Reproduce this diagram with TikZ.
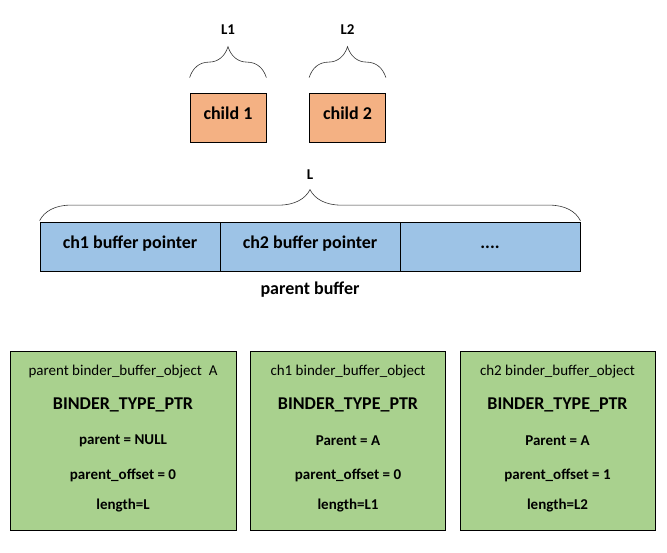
\documentclass[tikz,border=0pt]{standalone}
\usepackage{fontspec}
\setmainfont{Carlito}
\usepackage{tikz}
\usetikzlibrary{decorations.pathreplacing,positioning}

\definecolor{childfill}{HTML}{F4B183}
\definecolor{buffill}{HTML}{9DC3E6}
\definecolor{objfill}{HTML}{A9D18E}

\begin{document}
\begin{tikzpicture}[x=1pt,y=-1pt,
  box/.style={draw,line width=0.75pt,inner sep=0pt},
  childbox/.style={box,fill=childfill,minimum width=76pt,minimum height=49pt,text height=13pt,text depth=8pt,font=\fontsize{18}{20}\selectfont\bfseries},
  bufcell/.style={box,fill=buffill,minimum width=180pt,minimum height=49pt,text height=13pt,text depth=8pt,font=\fontsize{18}{20}\selectfont\bfseries},
  objbox/.style={box,fill=objfill,minimum height=179pt},
  objtitle/.style={font=\fontsize{15}{17}\selectfont},
  objtype/.style={font=\fontsize{18}{20}\selectfont\bfseries},
  objfield/.style={font=\fontsize{15}{17}\selectfont\bfseries},
  lenlabel/.style={font=\fontsize{15}{17}\selectfont\bfseries},
  sizebrace/.style={draw=black!80,line width=0.6pt,decorate,decoration={brace,amplitude=31pt}}]
\useasboundingbox (0,0) rectangle (667,553);

% children and their lengths
\node[childbox] (child1) at (228,117.5) {child 1};
\node[childbox] (child2) at (347.5,117.5) {child 2};
\draw[sizebrace] ([yshift=15pt]child1.north west) -- ([yshift=15pt]child1.north east);
\draw[sizebrace] ([yshift=15pt]child2.north west) -- ([yshift=15pt]child2.north east);
\node[lenlabel] (len1) at (228,30) {L1};
\node[lenlabel] (len2) at (347.5,30) {L2};

% parent buffer
\node[bufcell] (ptr1) at (130,246.5) {ch1 buffer pointer};
\node[bufcell] (ptr2) at (310,246.5) {ch2 buffer pointer};
\node[bufcell] (ptrrest) at (490,246.5) {\textbf{....}};
\draw[sizebrace] ([yshift=1pt]ptr1.north west) -- ([yshift=1pt]ptrrest.north east);
\node[lenlabel] (len) at (310,175) {L};
\node[font=\fontsize{18}{20}\selectfont\bfseries] (pbuf) at (310,290) {parent buffer};

% binder_buffer_objects
\node[objbox,minimum width=226pt] (objA) at (123,440.5) {};
\node[objtitle] (objAname) at (123,372) {parent binder\_buffer\_object\ \ A};
\node[objtype] (objAtype) at (123,405) {BINDER\_TYPE\_PTR};
\node[objfield] (objAparent) at (123,441) {parent = NULL};
\node[objfield] (objAoff) at (123,475) {parent\_offset = 0};
\node[objfield] (objAlen) at (123,506) {length=L};

\node[objbox,minimum width=195pt] (objB) at (348,440.5) {};
\node[objtitle] (objBname) at (348,372) {ch1 binder\_buffer\_object};
\node[objtype] (objBtype) at (348,405) {BINDER\_TYPE\_PTR};
\node[objfield] (objBparent) at (348,441) {Parent = A};
\node[objfield] (objBoff) at (348,475) {parent\_offset = 0};
\node[objfield] (objBlen) at (348,506) {length=L1};

\node[objbox,minimum width=195pt] (objC) at (557.5,440.5) {};
\node[objtitle] (objCname) at (557.5,372) {ch2 binder\_buffer\_object};
\node[objtype] (objCtype) at (557.5,405) {BINDER\_TYPE\_PTR};
\node[objfield] (objCparent) at (557.5,441) {Parent = A};
\node[objfield] (objCoff) at (557.5,475) {parent\_offset = 1};
\node[objfield] (objClen) at (557.5,506) {length=L2};
\end{tikzpicture}
\end{document}
